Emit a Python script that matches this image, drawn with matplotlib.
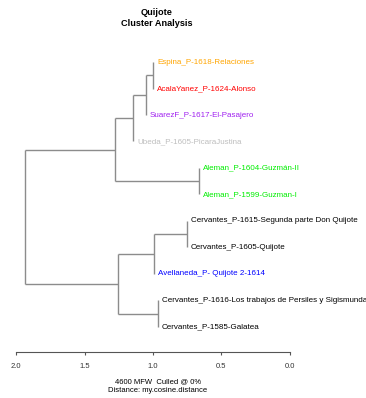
import matplotlib
matplotlib.use("Agg")
import matplotlib.pyplot as plt

plt.rcParams["font.family"] = ["Liberation Sans", "DejaVu Sans"]

# leaves, top to bottom
labels = [
    "Espina_P-1618-Relaciones",
    "AcalaYanez_P-1624-Alonso",
    "SuarezF_P-1617-El-Pasajero",
    "Ubeda_P-1605-PicaraJustina",
    "Aleman_P-1604-Guzmán-II",
    "Aleman_P-1599-Guzman-I",
    "Cervantes_P-1615-Segunda parte Don Quijote",
    "Cervantes_P-1605-Quijote",
    "Avellaneda_P- Quijote 2-1614",
    "Cervantes_P-1616-Los trabajos de Persiles y Sigismunda",
    "Cervantes_P-1585-Galatea",
]
label_colors = ["#FFA500", "#FF0000", "#A020F0", "#BEBEBE", "#00EE00", "#00EE00",
                "black", "black", "#0000FF", "black", "black"]

# merges in hclust style: negative = leaf (1-based), positive = earlier merge
merges = [(-1, -2), (1, -3), (2, -4), (-5, -6), (3, 4),
          (-7, -8), (6, -9), (-10, -11), (7, 8), (5, 9)]
heights = [1.00, 1.05, 1.146, 0.664, 1.277, 0.752, 0.993, 0.964, 1.255, 1.934]

ticks = [2.0, 1.5, 1.0, 0.5, 0.0]

fig = plt.figure(figsize=(3.66, 3.98), dpi=100)
ax = fig.add_axes([0, 0, 1, 1])
ax.set_xlim(2.117, -0.555)
ax.set_ylim(12.68, -2.34)

line_kw = dict(color="#8c8c8c", lw=1.0, solid_capstyle="butt")
node_y = {}
for k, ((a, b), h) in enumerate(zip(merges, heights), start=1):
    ys = []
    for c in (a, b):
        if c < 0:
            cy, cx = -c - 1, h
            ax.annotate(labels[-c - 1], (h, cy), xytext=(2.8, 0), textcoords="offset points",
                        ha="left", va="center", fontsize=5.75, color=label_colors[-c - 1])
        else:
            cy, cx = node_y[c], heights[c - 1]
        ax.plot([h, cx], [cy, cy], **line_kw)
        ys.append(cy)
    ax.plot([h, h], ys, **line_kw)
    node_y[k] = sum(ys) / 2

for s in ["top", "left", "right"]:
    ax.spines[s].set_visible(False)
ax.spines["bottom"].set_position(("data", 10.94))
ax.spines["bottom"].set_bounds(0, 2)
ax.spines["bottom"].set_color("#555555")
ax.spines["bottom"].set_linewidth(0.8)
ax.set_xticks(ticks)
ax.set_xticklabels([f"{t:.1f}" for t in ticks], fontsize=5.5)
ax.tick_params(axis="x", length=2.5, width=0.8, color="#555555", pad=5.5, labelcolor="#333333")
ax.set_yticks([])
ax.patch.set_alpha(0)

fig.text(157 / 366, 1 - 8 / 398, "Quijote\nCluster Analysis", ha="center", va="top",
         fontsize=6.6, fontweight="bold", linespacing=1.25)
fig.text(158 / 366, 1 - 382 / 398, "4600 MFW  Culled @ 0%", ha="center", va="center", fontsize=5.5)
fig.text(158 / 366, 1 - 391 / 398, "Distance: my.cosine.distance", ha="center", va="center", fontsize=5.5)

fig.savefig("out.png", dpi=100)
